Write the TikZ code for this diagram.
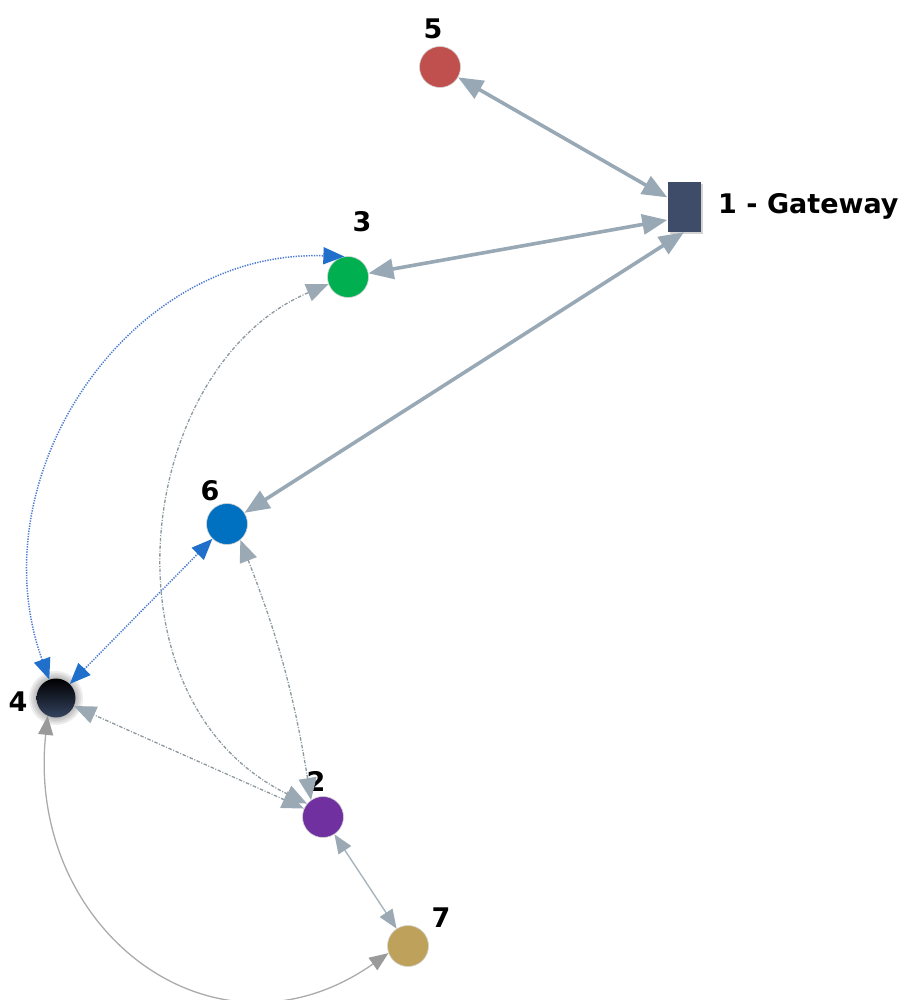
\documentclass[tikz,border=0pt]{standalone}
\usepackage{fontspec}
\setsansfont{DejaVu Sans}
\usetikzlibrary{arrows.meta,shadows}
\definecolor{MeshLink}{HTML}{98A9B5}
\definecolor{MeshDash}{HTML}{8C989F}
\definecolor{MeshTip}{HTML}{9AA9B3}
\definecolor{MeshCurve}{HTML}{ABABAB}
\definecolor{MeshThin}{HTML}{A7B4BD}
\definecolor{MeshBlue}{HTML}{1F6FCB}
\definecolor{MeshDot}{HTML}{4A7BD0}
\definecolor{MeshGate}{HTML}{3E4C6A}
\definecolor{MeshRed}{HTML}{C0504D}
\definecolor{MeshGreen}{HTML}{00B050}
\definecolor{MeshAzure}{HTML}{0070C0}
\definecolor{MeshPurple}{HTML}{7030A0}
\definecolor{MeshSand}{HTML}{BEA25B}
\definecolor{MeshNight}{HTML}{34435F}
\tikzset{
  mesh/node/.style={
    circle, minimum size=41pt, inner sep=0pt,
    draw=white!65!gray, line width=.6pt
  },
  mesh/gateway/.style={
    rectangle, fill=MeshGate, minimum width=33pt, minimum height=50pt,
    inner sep=0pt,
    drop shadow={shadow xshift=2.5pt,shadow yshift=-2.5pt,opacity=.35}
  },
  mesh/label/.style={font=\sffamily\bfseries\fontsize{27}{31}\selectfont, inner sep=0pt},
  mesh/link/.style={
    {Triangle[length=25pt,width=20pt]}-{Triangle[length=25pt,width=20pt]},
    line width=3.6pt, draw=MeshLink
  },
  mesh/thinlink/.style={
    {Triangle[length=19pt,width=15pt,color=MeshTip]}-{Triangle[length=19pt,width=15pt,color=MeshTip]},
    line width=1.4pt, draw=MeshThin
  },
  mesh/dotlink/.style={
    {Triangle[length=21pt,width=17pt,color=MeshBlue]}-{Triangle[length=21pt,width=17pt,color=MeshBlue]},
    line width=1.5pt, draw=MeshDot, dash pattern=on 1.3pt off 1.3pt
  },
  mesh/dashlink/.style={
    {Triangle[length=22pt,width=18pt,color=MeshTip]}-{Triangle[length=22pt,width=18pt,color=MeshTip]},
    line width=1.3pt, draw=MeshDash, dash pattern=on 3.5pt off 1.6pt on 1pt off 1.6pt
  },
  mesh/curvelink/.style={
    {Triangle[length=19pt,width=15pt,color=MeshCurve!90!black]}-{Triangle[length=19pt,width=15pt,color=MeshCurve!90!black]},
    line width=1.3pt, draw=MeshCurve
  }
}

\begin{document}
\begin{tikzpicture}[x=1pt,y=1pt]
  \useasboundingbox (0,0) rectangle (905,-1000);
  % glow round node 4
  \foreach \r in {27,25,23,21}
    \fill[black,opacity=.07] (56,-698) circle (\r);
  \node[mesh/gateway] (gw) at (684,-207) {};
  \node[mesh/node,fill=MeshRed] (n5) at (440,-67) {};
  \node[mesh/node,fill=MeshGreen] (n3) at (348,-277) {};
  \node[mesh/node,fill=MeshAzure] (n6) at (227,-524) {};
  \node[circle,minimum size=39pt,inner sep=0pt,top color=black,bottom color=MeshNight] (n4) at (56,-698) {};
  \node[mesh/node,fill=MeshPurple] (n2) at (323,-817) {};
  \node[mesh/node,fill=MeshSand] (n7) at (408,-946) {};
  % labels
  \node[mesh/label,anchor=base west] at (718,-214) {1 - Gateway};
  \node[mesh/label] at (433,-29) {5};
  \node[mesh/label] at (362,-222) {3};
  \node[mesh/label] at (210,-491) {6};
  \node[mesh/label] at (18,-702) {4};
  \node[mesh/label] at (316,-781) {2};
  \node[mesh/label] at (441,-918) {7};
  % gateway links
  \draw[mesh/link] (gw) -- (n5);
  \draw[mesh/link] ([yshift=-13pt]gw.west) -- (n3);
  \draw[mesh/link] (gw.south) -- (n6);
  % links of node 4
  \draw[mesh/dotlink] (n4.110) .. controls (-24,-477) and (128,-249) .. (n3.100);
  \draw[mesh/dotlink] (n4) -- (n6);
  \draw[mesh/curvelink] (n4.245) .. controls (25,-930) and (215,-1075) .. (n7.200);
  % links of node 2
  \draw[mesh/dashlink] (n2.140) .. controls (95,-700) and (135,-366) .. (n3.200);
  \draw[mesh/dashlink] (n2.125) to[bend right=6] (n6.-50);
  \draw[mesh/dashlink] (n2) -- (n4);
  \draw[mesh/thinlink] (n2) -- (n7);
\end{tikzpicture}
\end{document}
